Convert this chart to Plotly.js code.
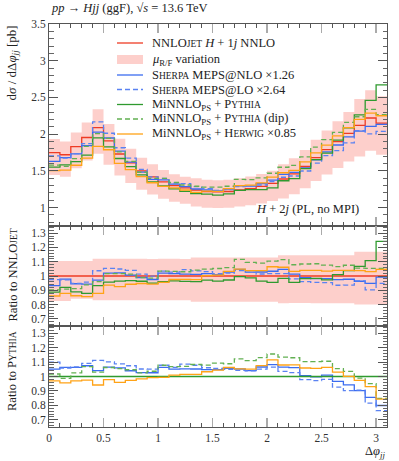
<!DOCTYPE html>
<html>
<head>
<meta charset="utf-8">
<script src="https://cdn.plot.ly/plotly-3.0.1.min.js"></script>
<style>
  body { margin: 0; background: #fff; }
  #chart { width: 399px; height: 461px; }
</style>
</head>
<body>
<div id="chart"></div>
<script>
// bin edges in Δφ_jj
const binEdges = [0, 0.1, 0.2, 0.3, 0.4, 0.5, 0.6, 0.7, 0.8, 0.9, 1.0, 1.1, 1.2, 1.3, 1.4, 1.5,
                  1.6, 1.7, 1.8, 1.9, 2.0, 2.1, 2.2, 2.3, 2.4, 2.5, 2.6, 2.7, 2.8, 2.9, 3.0, 3.1];

// dσ/dΔφ_jj [pb], one value per bin
const nnlojet   = [1.75, 1.72, 1.83, 1.955, 2.09, 1.91, 1.73, 1.61, 1.50, 1.42, 1.35, 1.30, 1.27, 1.24, 1.22, 1.215,
                   1.22, 1.24, 1.26, 1.29, 1.33, 1.39, 1.46, 1.56, 1.68, 1.79, 1.90, 2.01, 2.12, 2.22, 2.15];
const scaleLo   = [1.444, 1.419, 1.537, 1.642, 1.735, 1.585, 1.436, 1.336, 1.245, 1.179, 1.121, 1.079, 1.054, 1.017, 1.000, 0.996,
                   1.000, 1.017, 1.033, 1.058, 1.091, 1.126, 1.183, 1.264, 1.361, 1.450, 1.539, 1.628, 1.696, 1.776, 1.720];
const scaleHi   = [1.934, 1.901, 2.022, 2.160, 2.341, 2.139, 1.938, 1.803, 1.680, 1.590, 1.512, 1.456, 1.422, 1.401, 1.379, 1.373,
                   1.379, 1.401, 1.424, 1.458, 1.503, 1.592, 1.672, 1.786, 1.924, 2.050, 2.176, 2.301, 2.480, 2.597, 2.516];
const sherpaNLO = [1.631, 1.682, 1.731, 1.844, 2.029, 1.948, 1.768, 1.620, 1.484, 1.385, 1.378, 1.321, 1.287, 1.254, 1.241, 1.227,
                   1.254, 1.298, 1.294, 1.326, 1.374, 1.454, 1.479, 1.541, 1.650, 1.758, 1.853, 1.964, 2.042, 2.105, 2.133];
const sherpaLO  = [1.706, 1.674, 1.735, 1.871, 2.167, 2.013, 1.815, 1.674, 1.520, 1.419, 1.397, 1.335, 1.326, 1.285, 1.257, 1.236,
                   1.244, 1.286, 1.292, 1.308, 1.353, 1.414, 1.431, 1.499, 1.606, 1.708, 1.777, 1.883, 2.048, 2.005, 2.038];
const pythia    = [1.552, 1.582, 1.627, 1.716, 1.950, 1.828, 1.669, 1.558, 1.445, 1.350, 1.296, 1.256, 1.222, 1.192, 1.185, 1.171,
                   1.186, 1.234, 1.244, 1.244, 1.270, 1.366, 1.394, 1.532, 1.653, 1.742, 1.919, 2.086, 2.262, 2.460, 2.670];
const pythiaDip = [1.579, 1.562, 1.667, 1.834, 2.008, 1.942, 1.759, 1.631, 1.482, 1.399, 1.397, 1.342, 1.308, 1.291, 1.279, 1.279,
                   1.291, 1.385, 1.381, 1.406, 1.468, 1.550, 1.575, 1.691, 1.824, 1.926, 2.024, 2.161, 2.237, 2.338, 2.266];
const herwig    = [1.505, 1.512, 1.577, 1.673, 1.835, 1.788, 1.602, 1.517, 1.421, 1.339, 1.289, 1.268, 1.240, 1.209, 1.224, 1.222,
                   1.260, 1.300, 1.307, 1.338, 1.416, 1.475, 1.507, 1.622, 1.746, 1.851, 1.976, 2.088, 2.201, 2.287, 2.251];

const SERIF = '"Liberation Serif", "DejaVu Serif", serif';
const RED = '#ee3b24', BAND = '#fdcfcb', BLUE = '#3b6cf0', BLUE2 = '#5a82f2',
      GREEN = '#2f9a2f', GREEN2 = '#62b052', ORANGE = '#ffa317';

// plot area in pixels, used to place legend and labels
const PLOT = { left: 49, right: 387, top: 24, bottom: 427 };
const px2x = px => (px - PLOT.left) / (PLOT.right - PLOT.left);
const py2y = py => (PLOT.bottom - py) / (PLOT.bottom - PLOT.top);

// histogram as a step line: repeat the last value for the closing edge
function steps(vals) {
    return vals.concat([vals[vals.length - 1]]);
}

function ratio(vals, ref) {
    return vals.map((v, i) => v / ref[i]);
}

function stepTrace(vals, color, dash, axis) {
    return {
        x: binEdges,
        y: steps(vals),
        xaxis: 'x' + axis.x,
        yaxis: 'y' + axis.y,
        type: 'scatter',
        mode: 'lines',
        line: { shape: 'hv', color: color, width: 1.3, dash: dash },
        hoverinfo: 'skip',
        showlegend: false
    };
}

function bandTraces(lo, hi, axis) {
    const base = {
        x: binEdges,
        xaxis: 'x' + axis.x,
        yaxis: 'y' + axis.y,
        type: 'scatter',
        mode: 'lines',
        line: { shape: 'hv', width: 0, color: BAND },
        hoverinfo: 'skip',
        showlegend: false
    };
    return [
        Object.assign({}, base, { y: steps(lo) }),
        Object.assign({}, base, { y: steps(hi), fill: 'tonexty', fillcolor: BAND })
    ];
}

const main = { x: '', y: '' };
const r1 = { x: '2', y: '2' };
const r2 = { x: '3', y: '3' };

const traces = [
    ...bandTraces(scaleLo, scaleHi, main),
    stepTrace(nnlojet, RED, 'solid', main),
    stepTrace(sherpaNLO, BLUE, 'solid', main),
    stepTrace(sherpaLO, BLUE2, '5px,3px', main),
    stepTrace(pythia, GREEN, 'solid', main),
    stepTrace(pythiaDip, GREEN2, '5px,3px', main),
    stepTrace(herwig, ORANGE, 'solid', main),

    ...bandTraces(ratio(scaleLo, nnlojet), ratio(scaleHi, nnlojet), r1),
    stepTrace(ratio(nnlojet, nnlojet), RED, 'solid', r1),
    stepTrace(ratio(sherpaNLO, nnlojet), BLUE, 'solid', r1),
    stepTrace(ratio(sherpaLO, nnlojet), BLUE2, '5px,3px', r1),
    stepTrace(ratio(pythia, nnlojet), GREEN, 'solid', r1),
    stepTrace(ratio(pythiaDip, nnlojet), GREEN2, '5px,3px', r1),
    stepTrace(ratio(herwig, nnlojet), ORANGE, 'solid', r1),

    stepTrace(ratio(sherpaNLO, pythia), BLUE, 'solid', r2),
    stepTrace(ratio(sherpaLO, pythia), BLUE2, '5px,3px', r2),
    stepTrace(ratio(pythia, pythia), GREEN, 'solid', r2),
    stepTrace(ratio(pythiaDip, pythia), GREEN2, '5px,3px', r2),
    stepTrace(ratio(herwig, pythia), ORANGE, 'solid', r2)
];

const tickFont = { family: SERIF, size: 11.5, color: '#333' };

function xAxis(anchor, labels) {
    return {
        anchor: anchor,
        domain: [0, 1],
        range: [0, 3.1],
        tick0: 0,
        dtick: 0.5,
        ticks: 'inside',
        ticklen: 9,
        tickwidth: 1.5,
        tickcolor: '#aaa',
        minor: { dtick: 0.1, ticks: 'inside', ticklen: 4, tickcolor: '#555', tickwidth: 1 },
        showticklabels: labels,
        tickfont: tickFont,
        showline: true,
        linecolor: '#555',
        linewidth: 1,
        mirror: 'ticks',
        showgrid: false,
        zeroline: false,
        fixedrange: true
    };
}

function yAxis(domain, range, dtick, minorDtick) {
    return {
        domain: domain,
        range: range,
        tick0: 0,
        dtick: dtick,
        ticks: 'inside',
        ticklen: 9,
        tickwidth: 1,
        tickcolor: '#555',
        minor: { dtick: minorDtick, ticks: 'inside', ticklen: 4.5, tickcolor: '#666', tickwidth: 1 },
        tickfont: tickFont,
        showline: true,
        linecolor: '#555',
        linewidth: 1,
        mirror: 'ticks',
        showgrid: false,
        zeroline: false,
        fixedrange: true
    };
}

const splitMain = py2y(226);
const splitRatio = py2y(326);

// legend drawn by hand so the row spacing matches the figure
const SC = '<span style="font-size:9.5px">';
const legendRows = [
    { py: 43, color: RED, dash: 'solid', text: 'NNLO' + SC + 'JET</span> <i>H</i> + 1<i>j</i> NNLO' },
    { py: 59.5, band: true, text: '<i>μ</i><sub>R/F</sub> variation' },
    { py: 75, color: BLUE, dash: 'solid', text: 'S' + SC + 'HERPA</span> MEPS@NLO ×1.26' },
    { py: 89.5, color: BLUE2, dash: 'dash', text: 'S' + SC + 'HERPA</span> MEPS@LO ×2.64' },
    { py: 104.5, color: GREEN, dash: 'solid', text: 'MiNNLO<sub>PS</sub> + P' + SC + 'YTHIA</span>' },
    { py: 119, color: GREEN2, dash: 'dash', text: 'MiNNLO<sub>PS</sub> + P' + SC + 'YTHIA</span> (dip)' },
    { py: 134, color: ORANGE, dash: 'solid', text: 'MiNNLO<sub>PS</sub> + H' + SC + 'ERWIG</span> ×0.85' }
];

const shapes = [];
const annotations = [];
legendRows.forEach(row => {
    if (row.band) {
        shapes.push({
            type: 'rect', xref: 'paper', yref: 'paper',
            x0: px2x(117), x1: px2x(143), y0: py2y(row.py + 4.5), y1: py2y(row.py - 4.5),
            fillcolor: BAND, line: { width: 0 }
        });
    } else {
        shapes.push({
            type: 'line', xref: 'paper', yref: 'paper',
            x0: px2x(117), x1: px2x(143), y0: py2y(row.py), y1: py2y(row.py),
            line: { color: row.color, width: 1.3, dash: row.dash === 'dash' ? '5px,3px' : 'solid' }
        });
    }
    annotations.push({
        xref: 'paper', yref: 'paper', x: px2x(150), y: py2y(row.py),
        xanchor: 'left', yanchor: 'middle', showarrow: false,
        text: row.text, font: { family: SERIF, size: 12.5, color: '#222' }
    });
});

annotations.push(
    {
        xref: 'paper', yref: 'paper', x: 0, y: py2y(17), xanchor: 'left', yanchor: 'bottom',
        showarrow: false, font: { family: SERIF, size: 12.5, color: '#222' },
        text: '<i>pp</i> → <i>Hjj</i> (ggF), √<i>s</i> = 13.6 TeV'
    },
    {
        xref: 'paper', yref: 'paper', x: px2x(361), y: py2y(209), xanchor: 'right', yanchor: 'middle',
        showarrow: false, font: { family: SERIF, size: 12.5, color: '#222' },
        text: '<i>H</i> + 2<i>j</i> (PL, no MPI)'
    },
    {
        xref: 'paper', yref: 'paper', x: px2x(12), y: 1, xanchor: 'center', yanchor: 'top',
        textangle: -90, showarrow: false, font: { family: SERIF, size: 13, color: '#222' },
        text: 'd<i>σ</i> / dΔ<i>φ</i><sub><i>jj</i></sub> [pb]'
    },
    {
        xref: 'paper', yref: 'paper', x: px2x(12), y: py2y(227), xanchor: 'center', yanchor: 'top',
        textangle: -90, showarrow: false, font: { family: SERIF, size: 12.5, color: '#222' },
        text: 'Ratio to NNLO' + SC + 'JET</span>'
    },
    {
        xref: 'paper', yref: 'paper', x: px2x(12), y: py2y(329), xanchor: 'center', yanchor: 'top',
        textangle: -90, showarrow: false, font: { family: SERIF, size: 12.5, color: '#222' },
        text: 'Ratio to P' + SC + 'YTHIA</span>'
    },
    {
        xref: 'paper', yref: 'paper', x: 1, y: py2y(452), xanchor: 'right', yanchor: 'middle',
        showarrow: false, font: { family: SERIF, size: 12.5, color: '#222' },
        text: 'Δ<i>φ</i><sub><i>jj</i></sub>'
    }
);

const layout = {
    width: 399,
    height: 461,
    margin: { l: PLOT.left, r: 399 - PLOT.right, t: PLOT.top, b: 461 - PLOT.bottom },
    paper_bgcolor: '#ffffff',
    plot_bgcolor: '#ffffff',
    showlegend: false,
    font: { family: SERIF, color: '#222' },
    xaxis: xAxis('y', false),
    xaxis2: Object.assign(xAxis('y2', false), { matches: 'x' }),
    xaxis3: Object.assign(xAxis('y3', true), { matches: 'x' }),
    yaxis: yAxis([splitMain, 1], [0.75, 3.5], 0.5, 0.1),
    yaxis2: yAxis([splitRatio, splitMain], [0.65, 1.35], 0.1, 0.02),
    yaxis3: yAxis([0, splitRatio], [0.65, 1.35], 0.1, 0.02),
    shapes: shapes,
    annotations: annotations
};

Plotly.newPlot('chart', traces, layout, { displayModeBar: false, staticPlot: true });
</script>
</body>
</html>
